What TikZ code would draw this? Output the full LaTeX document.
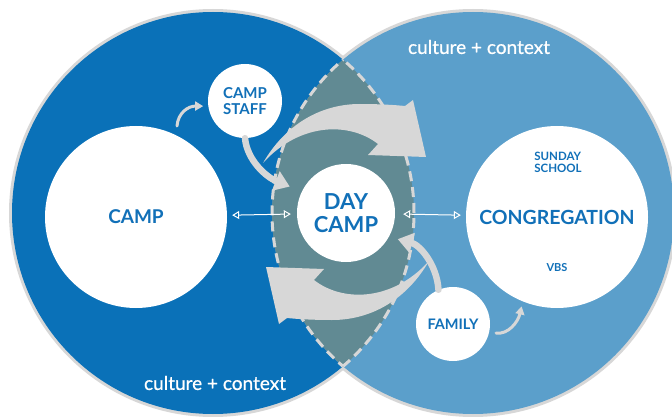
\documentclass[tikz,border=0pt]{standalone}
\usepackage{fontspec}
\setmainfont{Lato}
\newfontfamily\ctxfont[FakeBold=0.7]{Lato}
\usetikzlibrary{arrows.meta}
\definecolor{campblue}{HTML}{0A71B8}
\definecolor{churchblue}{HTML}{5B9FCB}
\definecolor{overlapteal}{HTML}{618A93}
\definecolor{swoopgray}{HTML}{D7D7D7}
\definecolor{labelblue}{HTML}{1170B8}

\begin{document}
\begin{tikzpicture}[
  x=1pt,
  y=-1pt,
  line join=round,
  bubble/.style={circle,fill=white,inner sep=0pt,align=center,text=labelblue,font=\bfseries},
  ring/.style={fill=swoopgray},
  lensedge/.style={draw=swoopgray,line width=3pt,dash pattern=on 10pt off 6pt},
  swoop/.style={fill=swoopgray},
  feeder/.style={draw=swoopgray,line width=6.5pt,line cap=round,-{Triangle[length=15pt,width=20pt]}},
  nudge/.style={draw=swoopgray,line width=3pt,line cap=round,-{Triangle[length=8pt,width=9pt]}},
  link/.style={draw=white,line width=1pt,{Triangle[open,length=7pt,width=8pt]}-{Triangle[open,length=7pt,width=8pt]}},
  context/.style={text=white,font=\ctxfont\fontsize{19}{22}\selectfont}
]
  % One curved band with its head; the lower one is the same band turned round the hub.
  \newcommand{\bigswoop}[1]{%
    \fill[swoop,rotate around={#1:(hub)}]
      (263,163) .. controls (285,125) and (320,104) .. (360,104)
      .. controls (380,104) and (395,105) .. (405,106)
      -- (413,100) -- (426,157) -- (368,155) -- (378,144)
      .. controls (350,122) and (300,122) .. (263,163) -- cycle;
  }

  \useasboundingbox (0,0) rectangle (672,417);
  \fill[white] (0,0) rectangle (672,417);

  \coordinate (campc) at (213,213);
  \coordinate (churchc) at (473,213);
  \coordinate (hub) at (346,212);

  % The two big circles with their grey rims.
  \fill[ring] (campc) circle (204pt);
  \fill[ring] (churchc) circle (204pt);
  \fill[campblue] (campc) circle (201pt);
  \fill[churchblue] (churchc) circle (201pt);

  % Overlap and its dashed edges.
  \begin{scope}
    \clip (campc) circle (201pt);
    \fill[overlapteal] (churchc) circle (201pt);
    \draw[lensedge] (churchc) circle (201pt);
  \end{scope}
  \begin{scope}
    \clip (churchc) circle (201pt);
    \draw[lensedge] (campc) circle (201pt);
  \end{scope}

  \bigswoop{0}
  \bigswoop{180}

  % Bubbles.
  \node[bubble,minimum size=182pt,font=\bfseries\fontsize{19}{22}\selectfont] (camp) at (136,217) {CAMP};
  \node[bubble,minimum size=74pt,font=\bfseries\fontsize{15}{16}\selectfont] (staff) at (245,101) {CAMP\\STAFF};
  \node[bubble,minimum size=98pt,font=\bfseries\fontsize{22}{23}\selectfont] (daycamp) at (346,213) {DAY\\CAMP};
  \node[bubble,minimum size=182pt,font=\bfseries\fontsize{19.5}{22}\selectfont] (cong) at (557,217) {CONGREGATION};
  \node[bubble,minimum size=74pt,font=\bfseries\fontsize{14.5}{16}\selectfont] (family) at (453,324) {FAMILY};
  \node[text=labelblue,align=left,font=\bfseries\fontsize{11.5}{12}\selectfont] (sunday) at (558,162) {SUNDAY\\SCHOOL};
  \node[text=labelblue,font=\bfseries\fontsize{11}{12}\selectfont] (vbs) at (557,268) {VBS};

  % Links between the three main bubbles.
  \draw[link,shorten <=5pt,shorten >=6pt] (camp) -- (daycamp);
  \draw[link,shorten <=8pt,shorten >=5pt] (daycamp) -- (cong);

  % Staff and family feeding in.
  \draw[feeder,shorten >=13pt] (staff.south) .. controls (247,160) and (266,177) .. (daycamp.154);
  \draw[feeder,shorten >=9pt] (family.113) .. controls (437,265) and (420,245) .. (daycamp.331);

  \coordinate (staffin) at (177,126);
  \coordinate (familyout) at (496,333);
  \draw[nudge,shorten >=5pt] (staffin) .. controls (178,113) and (188,106) .. (staff.188);
  \draw[nudge,shorten >=5pt] (familyout) .. controls (508,335) and (518,322) .. (cong.248);

  \node[context] (ctxchurch) at (479,47) {culture + context};
  \node[context] (ctxcamp) at (215,383) {culture + context};
\end{tikzpicture}
\end{document}
